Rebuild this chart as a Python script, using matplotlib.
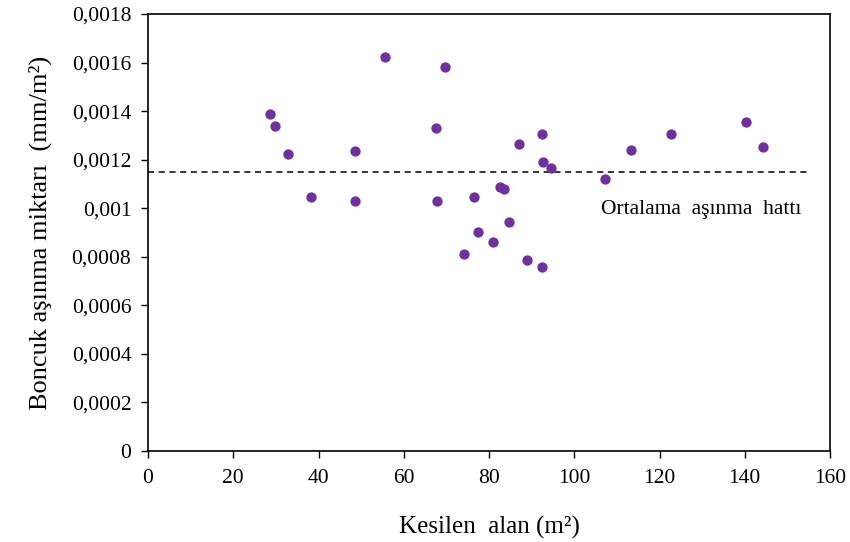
import matplotlib.pyplot as plt
from matplotlib.ticker import FuncFormatter

# Kesilen alan (m2) ve boncuk asinma miktari (mm/m2)
area = [28.6, 29.8, 32.8, 38.2, 48.6, 48.6, 55.6, 67.6, 67.8, 69.7,
        74.1, 76.5, 77.4, 80.9, 82.6, 83.5, 84.7, 87.0, 88.9, 92.4,
        92.4, 92.7, 94.5, 107.2, 113.3, 122.7, 140.3, 144.3]
wear = [0.001390, 0.001337, 0.001223, 0.001046, 0.001236, 0.001028, 0.001623,
        0.001330, 0.001028, 0.001583, 0.000811, 0.001046, 0.000902, 0.000861,
        0.001087, 0.001079, 0.000943, 0.001264, 0.000787, 0.001306, 0.000758,
        0.001190, 0.001165, 0.001120, 0.001240, 0.001306, 0.001355, 0.001252]
mean_wear = 0.00115
mean_line_x = [0, 154.6]

xticks = [0, 20, 40, 60, 80, 100, 120, 140, 160]
yticks = [0, 0.0002, 0.0004, 0.0006, 0.0008, 0.001, 0.0012, 0.0014, 0.0016, 0.0018]

plt.rcParams['font.family'] = ['Liberation Serif', 'DejaVu Serif']

fig = plt.figure(figsize=(8.5, 5.42), dpi=100)
ax = fig.add_axes([148 / 850, 91 / 542, 682 / 850, 437 / 542])

ax.scatter(area, wear, s=55, color='#7030A0', zorder=3, linewidths=0)
ax.plot(mean_line_x, [mean_wear, mean_wear], color='black', linestyle=(0, (4, 3)),
        linewidth=1.1)
ax.text(106.3, 0.000993, 'Ortalama  aşınma  hattı', fontsize=15.5, va='center', ha='left')

ax.set_xlim(0, 160)
ax.set_ylim(0, 0.0018)
ax.set_xticks(xticks)
ax.set_yticks(yticks)


def comma_fmt(v, pos):
    if v == 0:
        return '0'
    s = ('%.4f' % v).rstrip('0')
    return s.replace('.', ',')


ax.yaxis.set_major_formatter(FuncFormatter(comma_fmt))
ax.tick_params(direction='out', length=5, width=1, labelsize=15.5)
ax.tick_params(axis='y', pad=7)
ax.tick_params(axis='x', pad=8)
for sp in ax.spines.values():
    sp.set_linewidth(1.2)

ax.set_xlabel('Kesilen  alan (m²)', fontsize=18, labelpad=20)
ax.set_ylabel('Boncuk aşınma miktarı  (mm/m²)', fontsize=19, labelpad=14)

fig.savefig('out.png', dpi=100)
